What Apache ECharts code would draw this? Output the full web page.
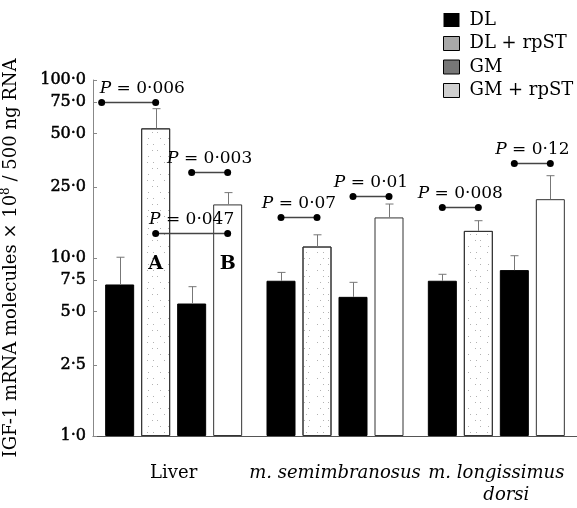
<!DOCTYPE html>
<html>
<head>
<meta charset="utf-8">
<script src="https://cdn.jsdelivr.net/npm/echarts@6/dist/echarts.min.js"></script>
<style>html,body{margin:0;padding:0;background:#fff;}#c{width:577px;height:508px;}</style>
</head>
<body>
<div id="c"></div>
<script>
// ---- data ----
const categories = ['Liver', 'm. semimbranosus', 'm. longissimus\ndorsi'];
const seriesNames = ['DL', 'DL + rpST', 'GM', 'GM + rpST'];
const dl      = [7.1, 7.45, 7.45];
const dlRpst  = [53.5, 11.6, 14.2];
const gm      = [5.55, 6.05, 8.55];
const gmRpst  = [20.0, 16.9, 21.4];
// upper ends of the error bars
const dlErr     = [10.1, 8.3, 8.1];
const dlRpstErr = [69.0, 13.5, 16.2];
const gmErr     = [6.9, 7.3, 10.3];
const gmRpstErr = [23.3, 20.1, 29.0];
const yTicks = [1, 2.5, 5, 7.5, 10, 25, 50, 75, 100];
// significance brackets: [category, from bar, to bar, y value, P text, label anchor]
const pTests = [
  [0, -0.5, 1, 75, '0·006', 'left'],
  [0, 2, 3, 30.5, '0·003', 'center'],
  [0, 1, 3, 13.8, '0·047', 'center'],
  [1, 0, 1, 17.1, '0·07', 'center'],
  [1, 2, 3, 22.3, '0·01', 'center'],
  [2, 0, 1, 19.3, '0·008', 'center'],
  [2, 2, 3, 34.0, '0·12', 'center']
];
// letters inside bars: [category, bar, letter]
const letters = [[0, 1, 'A'], [0, 3, 'B']];
const letterY = 9.2;

// ---- styles ----
const FONT = 'DejaVu Serif';
const BAR_W = 29, BAR_GAP = 7;
const values = [dl, dlRpst, gm, gmRpst];
const errs = [dlErr, dlRpstErr, gmErr, gmRpstErr];
const fills = ['#000', '#fff', '#000', '#fff'];
const legendFills = ['#000', '#a8a8a8', '#777', '#cfcfcf'];
const fmt = v => v.toFixed(1).replace('.', '·');
const off = k => (k - 1.5) * (BAR_W + BAR_GAP);

const stipple = {
  symbol: 'rect', symbolSize: 1, color: 'rgba(0,0,0,0.3)',
  dashArrayX: [[1, 7, 1, 11], [1, 10, 1, 5], [1, 4, 1, 13]], dashArrayY: [1, 5], rotation: 0
};

const barSeries = seriesNames.map((n, k) => ({
  name: n, type: 'bar', barWidth: BAR_W, barGap: (BAR_GAP / BAR_W * 100) + '%',
  data: values[k],
  itemStyle: Object.assign({ color: fills[k], borderColor: k % 2 ? '#333' : '#000', borderWidth: 1 },
    k === 1 ? { decal: stipple } : {}),
  z: 2
}));

const errData = [];
values.forEach((arr, k) => arr.forEach((v, i) => errData.push([i, k, v, errs[k][i]])));

const chart = echarts.init(document.getElementById('c'));
chart.setOption({
  animation: false,
  backgroundColor: '#fff',
  grid: { left: 93, right: 0, top: 80, bottom: 72, outerBoundsMode: 'none', containLabel: false },
  legend: {
    orient: 'vertical', left: 443, top: 11, padding: 0, itemWidth: 16, itemHeight: 14, itemGap: 5.5,
    icon: 'rect', selectedMode: false,
    textStyle: { fontFamily: FONT, fontSize: 18, color: '#000', padding: [0, 0, 0, 5] },
    data: seriesNames.map((n, k) => ({
      name: n, itemStyle: { color: legendFills[k], borderColor: '#000', borderWidth: k ? 1 : 0, decal: 'none' }
    }))
  },
  xAxis: {
    type: 'category', data: categories,
    axisLine: { lineStyle: { color: '#555', width: 1 } },
    axisTick: { show: false },
    axisLabel: {
      margin: 26, interval: 0, color: '#000', fontFamily: FONT, fontSize: 18, lineHeight: 22,
      formatter: (v, i) => {
        if (i === 0) return v;
        if (i === 1) return '{it|' + v + '}';
        const p = v.split('\n');
        return '{it|' + p[0] + '}\n{itd|' + p[1] + '}';
      },
      rich: {
        it: { fontStyle: 'italic', fontFamily: FONT, fontSize: 18, lineHeight: 22 },
        itd: { fontStyle: 'italic', fontFamily: FONT, fontSize: 18, lineHeight: 22, padding: [0, 0, 0, 20] }
      }
    }
  },
  yAxis: {
    type: 'log', logBase: 10, min: 1, max: 100,
    name: 'IGF-1 mRNA molecules × 10{sup|8} / 500 ng RNA',
    nameLocation: 'middle', nameGap: 71, nameRotate: 90,
    nameTextStyle: {
      fontFamily: FONT, fontSize: 18, color: '#000',
      rich: { sup: { fontFamily: FONT, fontSize: 12, verticalAlign: 'bottom', padding: [0, 0, 10, 0] } }
    },
    axisLine: { show: true, lineStyle: { color: '#888', width: 1 } },
    axisTick: { show: true, inside: true, length: 4, customValues: yTicks, lineStyle: { color: '#888' } },
    splitLine: { show: false },
    axisLabel: {
      customValues: yTicks, formatter: v => fmt(v), margin: 7,
      color: '#000', fontFamily: FONT, fontSize: 16, textBorderColor: '#000', textBorderWidth: 0.5
    }
  },
  series: barSeries.concat([
    {
      type: 'custom', name: 'err', data: errData, encode: { x: 0, y: 2 }, z: 3, silent: true,
      renderItem: (params, api) => {
        const k = api.value(1);
        const b = api.coord([api.value(0), api.value(2)]);
        const t = api.coord([api.value(0), api.value(3)]);
        const x = Math.round(b[0] + off(k)) + 0.5;
        const st = { stroke: '#777', lineWidth: 1 };
        return { type: 'group', children: [
          { type: 'line', shape: { x1: x, y1: b[1], x2: x, y2: t[1] }, style: st },
          { type: 'line', shape: { x1: x - 4, y1: t[1], x2: x + 4, y2: t[1] }, style: st }
        ] };
      }
    },
    {
      type: 'custom', name: 'p', data: pTests.map(p => p.slice(0, 4)), encode: { x: 0, y: 3 }, z: 4, silent: true,
      renderItem: (params, api) => {
        const c = api.coord([api.value(0), api.value(3)]);
        const x1 = c[0] + off(api.value(1)), x2 = c[0] + off(api.value(2));
        const y = Math.round(c[1]) + 0.5;
        const item = pTests[params.dataIndex];
        const left = item[5] === 'left';
        return { type: 'group', children: [
          { type: 'line', shape: { x1: x1, y1: y, x2: x2, y2: y }, style: { stroke: '#444', lineWidth: 1.5 } },
          { type: 'circle', shape: { cx: x1, cy: y, r: 3.5 }, style: { fill: '#000' } },
          { type: 'circle', shape: { cx: x2, cy: y, r: 3.5 }, style: { fill: '#000' } },
          { type: 'text', x: left ? x1 - 2 : (x1 + x2) / 2, y: y - 14, style: {
              text: '{i|P} = ' + item[4], align: left ? 'left' : 'center', verticalAlign: 'middle',
              fontFamily: FONT, fontSize: 17, fill: '#000',
              rich: { i: { fontStyle: 'italic', fontFamily: FONT, fontSize: 17 } }
          } }
        ] };
      }
    },
    {
      type: 'custom', name: 'letters', data: letters.map(l => [l[0], l[1], letterY]),
      encode: { x: 0, y: 2 }, z: 4, silent: true,
      renderItem: (params, api) => {
        const c = api.coord([api.value(0), api.value(2)]);
        return { type: 'text', x: c[0] + off(api.value(1)), y: c[1], style: {
          text: letters[params.dataIndex][2], align: 'center', verticalAlign: 'middle',
          fontFamily: FONT, fontSize: 19, fontWeight: 'bold', fill: '#000'
        } };
      }
    }
  ])
});
</script>
</body>
</html>
